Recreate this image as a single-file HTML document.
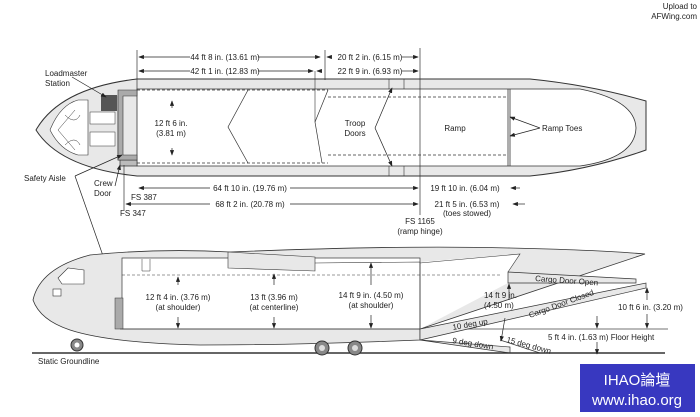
<!DOCTYPE html>
<html><head><style>
body{margin:0;background:#fff}
svg{display:block}
text{font-family:"Liberation Sans",sans-serif;font-size:8px;fill:#222}
</style></head><body>
<svg width="700" height="417" viewBox="0 0 700 417" xmlns="http://www.w3.org/2000/svg">
<defs><marker id="a" markerWidth="8" markerHeight="6" refX="7" refY="3" orient="auto"><path d="M0,0L8,3L0,6z" fill="#222"/></marker></defs>
<text x="697" y="9" text-anchor="end">Upload to</text>
<text x="697" y="19" text-anchor="end">AFWing.com</text>
<!-- TOP VIEW -->
<path d="M137,79 L530,79 Q590,85 646,101 L646,150 Q590,170 530,176 L137,176 Q60,168 36,130 Q60,88 137,79Z" fill="#e8e8e8" stroke="#333" stroke-width="1"/>
<path d="M137,89 L580,89 Q635,100 636,128 Q635,158 580,166 L137,166Z" fill="#fff" stroke="#333" stroke-width="0.8"/>
<path d="M120,90 L118,96 L118,160 L137,160 L137,166 L120,166 Z" fill="#bbb" stroke="#333" stroke-width="0.7"/>
<path d="M118,90 L137,90 L137,96 L123,96 L123,155 L137,155 L137,160 L118,160Z" fill="#aaa" stroke="#333" stroke-width="0.6"/>
<rect x="101" y="95" width="16" height="16" fill="#555"/>
<rect x="90" y="112" width="25" height="12" fill="#fff" stroke="#333" stroke-width="0.5"/>
<rect x="90" y="132" width="25" height="14" fill="#fff" stroke="#333" stroke-width="0.5"/>
<path d="M50,130 Q60,105 78,100 L88,100 L88,155 L78,155 Q60,150 50,130" fill="#fff" stroke="#333" stroke-width="0.6"/>
<path d="M58,130 L75,110 M58,130 L75,150 M65,115 Q75,125 80,115 M65,145 Q75,135 80,145" fill="none" stroke="#333" stroke-width="0.5"/>
<path d="M137,90 L328,90 M137,163 L328,163 M328,97 L508,97 M328,155 L508,155" stroke="#333" stroke-width="0.7" stroke-dasharray="3,2"/>
<path d="M248,90 L228,127 L248,163 M328,90 L315,122 L322,163" fill="none" stroke="#333" stroke-width="0.7"/>
<path d="M508,89 L508,166 M510,89 L510,166" stroke="#333" stroke-width="0.8"/>
<path d="M389,79 L389,89 M404,79 L404,89 M389,166 L389,176 M404,166 L404,176" stroke="#333" stroke-width="0.6"/>
<path d="M420,48 L420,215 M137,50 L137,90 M325,50 L325,80 M124,165 L124,210" stroke="#333" stroke-width="0.7"/>
<g stroke="#222" stroke-width="0.7" marker-end="url(#a)">
<path d="M190,57 L139,57"/><path d="M258,57 L320,57"/><path d="M331,57 L327,57"/><path d="M402,57 L418,57"/>
<path d="M190,71 L139,71"/><path d="M258,71 L313,71"/><path d="M322,71 L317,71"/><path d="M402,71 L418,71"/>
<path d="M210,188 L139,188"/><path d="M290,188 L418,188"/><path d="M520,188 L511,188"/>
<path d="M210,204 L126,204"/><path d="M290,204 L418,204"/><path d="M525,204 L513,204"/>
<path d="M172,108 L172,101"/><path d="M172,148 L172,155"/>
<path d="M375,128 L392,88"/><path d="M375,128 L392,166"/>
<path d="M540,128 L510,117"/><path d="M540,128 L510,136"/>
<path d="M72,77 L106,97"/><path d="M115,186 L120,165"/><path d="M75,176 L122,155"/>
<path d="M75,176 L115,290"/>
</g>
<path d="M315,71 L315,122" stroke="#333" stroke-width="0.6"/>
<text x="225" y="60" text-anchor="middle">44 ft 8 in. (13.61 m)</text>
<text x="225" y="74" text-anchor="middle">42 ft 1 in. (12.83 m)</text>
<text x="370" y="60" text-anchor="middle">20 ft 2 in. (6.15 m)</text>
<text x="370" y="74" text-anchor="middle">22 ft 9 in. (6.93 m)</text>
<text x="171" y="126" text-anchor="middle">12 ft 6 in.</text>
<text x="171" y="136" text-anchor="middle">(3.81 m)</text>
<text x="355" y="126" text-anchor="middle">Troop</text>
<text x="355" y="136" text-anchor="middle">Doors</text>
<text x="455" y="131" text-anchor="middle">Ramp</text>
<text x="542" y="131">Ramp Toes</text>
<text x="45" y="76">Loadmaster</text>
<text x="45" y="86">Station</text>
<text x="24" y="181">Safety Aisle</text>
<text x="94" y="186">Crew</text>
<text x="94" y="196">Door</text>
<text x="250" y="191" text-anchor="middle">64 ft 10 in. (19.76 m)</text>
<text x="250" y="207" text-anchor="middle">68 ft 2 in. (20.78 m)</text>
<text x="465" y="191" text-anchor="middle">19 ft 10 in. (6.04 m)</text>
<text x="467" y="207" text-anchor="middle">21 ft 5 in. (6.53 m)</text>
<text x="467" y="216" text-anchor="middle">(toes stowed)</text>
<text x="131" y="200">FS 387</text>
<text x="120" y="216">FS 347</text>
<text x="420" y="224" text-anchor="middle">FS 1165</text>
<text x="420" y="234" text-anchor="middle">(ramp hinge)</text>
<!-- SIDE VIEW -->
<path d="M33,300 Q40,268 90,255 Q160,248 230,252 Q400,245 510,248 Q600,250 645,254 L420,329 L420,340 Q300,345 200,345 Q110,343 70,330 Q40,320 33,300Z" fill="#e8e8e8" stroke="#333" stroke-width="0.8"/>
<path d="M420,262 L520,254 L508,272 L508,283 L420,329Z" fill="#fff"/>
<rect x="122" y="258" width="298" height="71" fill="#fff" stroke="#333" stroke-width="0.7"/>
<path d="M122,275 L420,275 L500,275" stroke="#333" stroke-width="0.6" stroke-dasharray="3,2"/>
<path d="M228,252 L315,257 L315,271 L228,268Z" fill="#e8e8e8" stroke="#333" stroke-width="0.6"/>
<path d="M315,263 L420,262 L420,329 M420,263 L520,254 L508,272" fill="none" stroke="#333" stroke-width="0.6"/>
<rect x="115" y="298" width="8" height="31" fill="#aaa" stroke="#333" stroke-width="0.5"/>
<path d="M142,259 L142,271 L150,271 L150,259" fill="none" stroke="#333" stroke-width="0.5"/>
<path d="M58,278 L68,268 L84,270 L84,284 L62,284Z" fill="#fff" stroke="#333" stroke-width="0.6"/>
<rect x="53" y="289" width="8" height="7" fill="#fff" stroke="#333" stroke-width="0.6"/>
<path d="M120,329 L668,329" stroke="#444" stroke-width="0.8"/>
<path d="M508,272 L636,279 L636,283 L508,283Z" fill="#e8e8e8" stroke="#333" stroke-width="0.7"/>
<path d="M420,329 L646,283 L646,288 L420,340Z" fill="#e8e8e8" stroke="#333" stroke-width="0.7"/>
<path d="M420,340 L510,353 L510,347 Z M500,340 L540,353" fill="#e8e8e8" stroke="#333" stroke-width="0.7"/>
<path d="M32,353 L665,353" stroke="#333" stroke-width="1.5"/>
<circle cx="77" cy="345" r="6" fill="#888" stroke="#333"/><circle cx="77" cy="345" r="2.5" fill="#fff"/>
<circle cx="322" cy="348" r="7" fill="#888" stroke="#333"/><circle cx="322" cy="348" r="3" fill="#ddd"/>
<circle cx="355" cy="348" r="7" fill="#888" stroke="#333"/><circle cx="355" cy="348" r="3" fill="#ddd"/>
<g stroke="#222" stroke-width="0.7" marker-end="url(#a)">
<path d="M178,285 L178,277"/><path d="M178,317 L178,328"/>
<path d="M274,285 L274,274"/><path d="M274,317 L274,328"/>
<path d="M371,285 L371,263"/><path d="M371,315 L371,328"/>
<path d="M509,300 L509,284"/><path d="M505,318 L501,341"/>
<path d="M597,316 L597,328"/><path d="M597,342 L597,354"/>
<path d="M647,300 L647,288"/><path d="M647,314 L647,328"/>
</g>
<text x="178" y="300" text-anchor="middle">12 ft 4 in. (3.76 m)</text>
<text x="178" y="310" text-anchor="middle">(at shoulder)</text>
<text x="274" y="300" text-anchor="middle">13 ft (3.96 m)</text>
<text x="274" y="310" text-anchor="middle">(at centerline)</text>
<text x="371" y="298" text-anchor="middle">14 ft 9 in. (4.50 m)</text>
<text x="371" y="308" text-anchor="middle">(at shoulder)</text>
<text x="484" y="298">14 ft 9 in.</text>
<text x="484" y="308">(4.50 m)</text>
<text x="618" y="310">10 ft 6 in. (3.20 m)</text>
<text x="548" y="340">5 ft 4 in. (1.63 m) Floor Height</text>
<text x="535" y="281" transform="rotate(4 535 281)">Cargo Door Open</text>
<text x="530" y="318" transform="rotate(-20 530 318)">Cargo Door Closed</text>
<text x="453" y="330" transform="rotate(-10 453 330)">10 deg up</text>
<text x="452" y="343" transform="rotate(9 452 343)">9 deg down</text>
<text x="506" y="342" transform="rotate(15 506 342)">15 deg down</text>
<text x="38" y="364">Static Groundline</text>
<rect x="580" y="364" width="115" height="48" fill="#3838c0"/>
<text x="637" y="385" text-anchor="middle" style="font-size:15px;fill:#fff;font-family:'Liberation Sans','Noto Sans CJK TC',sans-serif">IHAO論壇</text>
<text x="637" y="405" text-anchor="middle" style="font-size:15px;fill:#fff">www.ihao.org</text>
</svg>
</body></html>
